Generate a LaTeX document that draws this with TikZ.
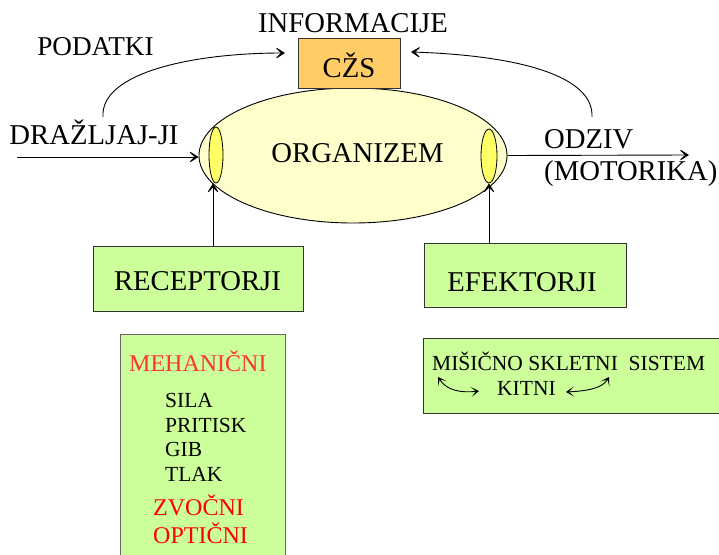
\documentclass[tikz,border=0pt]{standalone}
\usepackage{fontspec}
\setmainfont{Liberation Serif}
\usetikzlibrary{arrows.meta,shapes.geometric}
\definecolor{orgfill}{HTML}{FFFFCC}
\definecolor{earfill}{HTML}{FFFF66}
\definecolor{czsfill}{HTML}{FFCC66}
\definecolor{boxfill}{HTML}{CCFF99}
\definecolor{redA}{HTML}{FF3333}
\definecolor{redB}{HTML}{FF0000}
\begin{document}
\begin{tikzpicture}[x=1pt,y=-1pt,
  big/.style={font=\fontsize{28.7}{30}\selectfont, inner sep=0pt},
  mid/.style={font=\fontsize{24}{26}\selectfont, inner sep=0pt},
  small/.style={font=\fontsize{21.5}{23}\selectfont, inner sep=0pt},
  arr/.style={-{Stealth[length=12pt,width=15pt,inset=8pt]}, line width=0.9pt},
  dblarr/.style={{Stealth[length=8pt,width=10pt,inset=5pt]}-{Stealth[length=8pt,width=10pt,inset=5pt]}, line width=0.9pt},
  box/.style={draw=black!80, fill=boxfill, line width=0.9pt, inner sep=0pt},
  ear/.style={ellipse, draw, fill=earfill, line width=0.8pt, inner sep=0pt},
]
\useasboundingbox (0,0) rectangle (719,554);
\clip (0,0) rectangle (719,554);

% organism
\node[ellipse, draw, fill=orgfill, line width=0.9pt, minimum width=308pt, minimum height=135pt] (org) at (353,155.5) {};
\node[ear, minimum width=14pt, minimum height=56pt] (lear) at (216,155) {};
\node[ear, minimum width=16pt, minimum height=54pt] (rear) at (489,156) {};
\node[big, anchor=base] (orgt) at (357.5,162) {ORGANIZEM};

% CZS
\node[draw=black!80, fill=czsfill, line width=0.9pt, minimum width=102pt, minimum height=50pt] (czs) at (349,63) {};
\node[big, anchor=base] (czst) at (349,77) {CŽS};
\node[big, anchor=base] (info) at (353,32) {INFORMACIJE};
\node[font=\fontsize{27.2}{29}\selectfont, inner sep=0pt, anchor=base] (pod) at (95.5,55) {PODATKI};

% input / output
\node[big, anchor=base] (draz) at (94,144) {DRAŽLJAJ-JI};
\coordinate (din) at (17,157);
\draw[arr] (din) -- (org.west |- din);
\node[big, anchor=base west] (odz) at (544,148) {ODZIV};
\node[big, anchor=base west] (mot) at (544,180) {(MOTORIKA)};
\coordinate (dout) at (689,155);
\draw[arr] (org.east) -- (dout);

% arcs to CZS
\coordinate (pstart) at (103,117);
\coordinate (pend) at (285,53);
\draw[arr] (pstart) .. controls (100,72) and (195,53) .. (pend);
\coordinate (istart) at (592,117);
\coordinate (iend) at (411,52);
\draw[arr] (istart) .. controls (594,72) and (505,55) .. (iend);

% receptorji
\node[box, minimum width=210pt, minimum height=65pt] (rec) at (198,278.5) {};
\node[big, anchor=base] (rect) at (197.5,290) {RECEPTORJI};
\draw[arr] (rec.north -| 213,0) -- (lear.south -| 213,0);

% efektorji
\node[box, minimum width=202pt, minimum height=64pt] (eff) at (525,275) {};
\node[big, anchor=base] (efft) at (522,291) {EFEKTORJI};
\draw[arr] (eff.north -| rear.south) -- (rear.south);

% receptor list
\node[draw=black!60, fill=boxfill, line width=0.9pt, minimum width=165pt, minimum height=240pt, inner sep=0pt] (list) at (202.5,454) {};
\node[mid, anchor=base west, text=redA] (meh) at (129,371) {MEHANIČNI};
\node[small, anchor=base west] (sila) at (165,407) {SILA};
\node[small, anchor=base west] (prit) at (165,432) {PRITISK};
\node[small, anchor=base west] (gib) at (165,456.5) {GIB};
\node[small, anchor=base west] (tlak) at (165,481) {TLAK};
\node[mid, anchor=base west, text=redB] (zvo) at (153,515) {ZVOČNI};
\node[mid, anchor=base west, text=redB] (opt) at (153,543) {OPTIČNI};

% effector list
\node[draw=black!80, fill=boxfill, line width=0.9pt, minimum width=302pt, minimum height=75pt, inner sep=0pt] (mis) at (574,375.5) {};
\node[small, anchor=base west] (mist) at (432,370) {MIŠIČNO SKLETNI\ \ SISTEM};
\node[small, anchor=base west] (kit) at (497,395) {KITNI};
\coordinate (la) at (438,377);
\coordinate (lb) at (479,391);
\draw[dblarr] (la) .. controls (447,391) and (462,393) .. (lb);
\coordinate (ra) at (566,392);
\coordinate (rb) at (609,377);
\draw[dblarr] (ra) .. controls (585,391) and (602,389) .. (rb);
\end{tikzpicture}
\end{document}
